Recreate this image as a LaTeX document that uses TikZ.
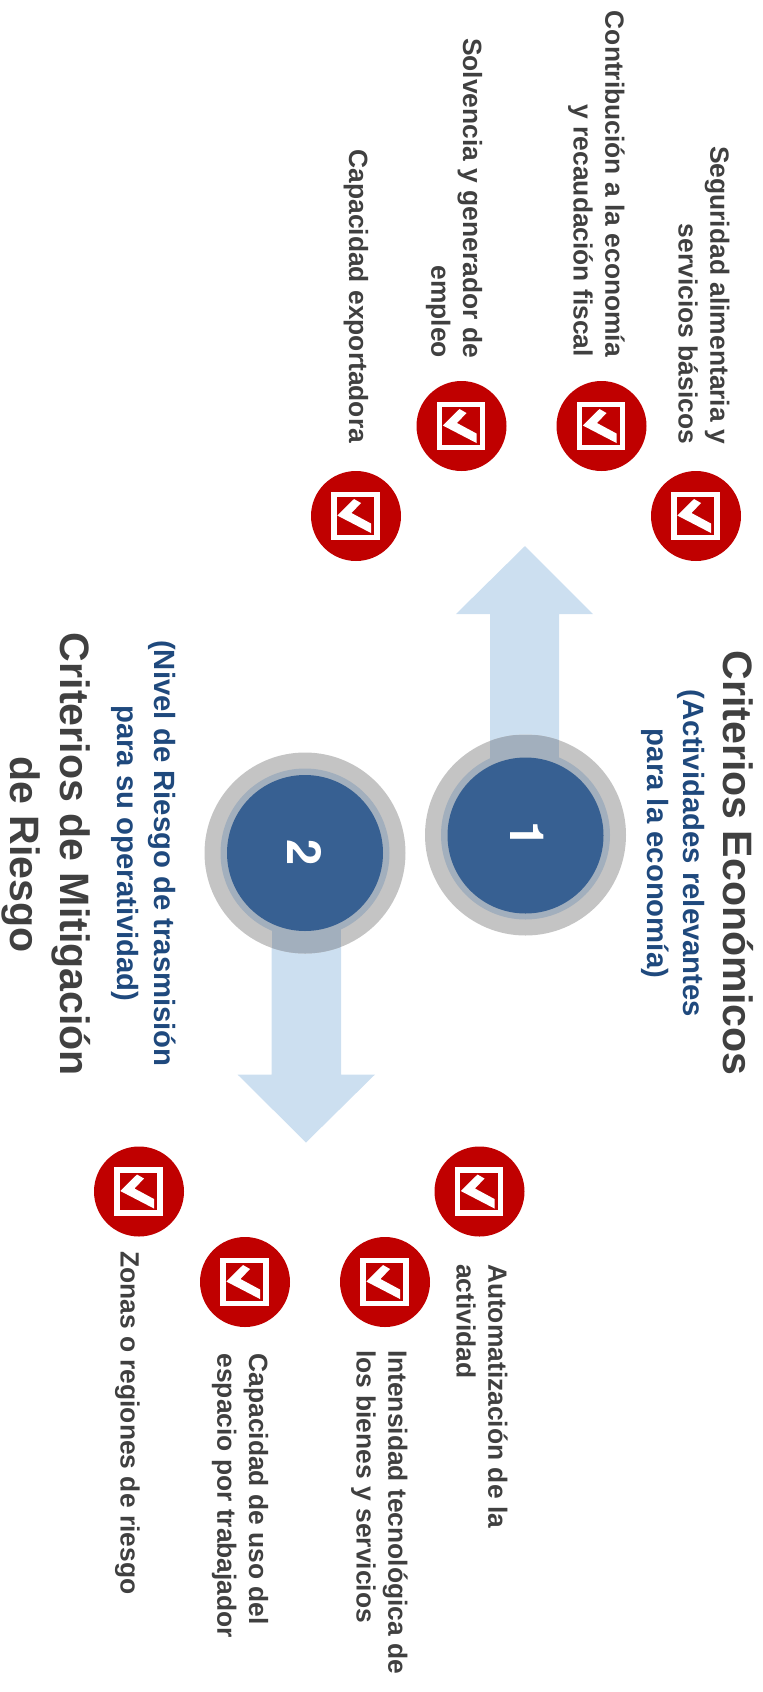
\documentclass[tikz,border=0pt]{standalone}
\usepackage{fontspec}
\setmainfont{Liberation Sans}
\newfontfamily\cifra{TeX Gyre Heros}
\usepackage{xcolor}
\usetikzlibrary{positioning}
\definecolor{texto}{HTML}{404040}
\definecolor{azul}{HTML}{1F497D}
\definecolor{disco}{HTML}{376092}
\definecolor{anillo}{HTML}{C4C4C4}
\definecolor{halo}{HTML}{A2AFBD}
\definecolor{flecha}{HTML}{CCDFF0}
\definecolor{rojo}{HTML}{C00000}
\tikzset{
  icono/.pic={
    \draw [white,line width=5.3pt,fill=rojo] (-22,-21.5) rectangle (21,21.5);
    \fill [white] (-18.7,-0.5) -- (-2,-17) -- (5,-13) -- (-4.5,-3) -- (15,7.5) -- (15,17) -- cycle;
  }
}
\begin{document}
\begin{tikzpicture}[x=1pt,y=-1pt,
    every node/.style={inner sep=0pt,outer sep=0pt,font=\bfseries},
    bola/.style={circle,fill=rojo,minimum size=90pt},
    etiqueta/.style={rotate=-90,text=texto,font=\bfseries\fontsize{26.4}{31.7}\selectfont},
    titulo/.style={rotate=-90,text=texto,align=center,font=\bfseries\fontsize{41.1}{50}\selectfont},
    nota/.style={rotate=-90,text=azul,align=center,font=\bfseries\fontsize{29.3}{36.5}\selectfont},
    numero/.style={rotate=-90,text=white,font=\cifra\bfseries\fontsize{47}{47}\selectfont}]

    \useasboundingbox (0,0) rectangle (763,1692);

    % The arrows
    \fill [flecha] (490,835) -- (490,614) -- (456,614) -- (525,546) -- (593,614) -- (559,614) -- (559,835) -- cycle;
    \fill [flecha] (271.5,853) -- (271.5,1074.5) -- (237.5,1074.5) -- (306,1142.5) -- (375,1074.5) -- (341,1074.5) -- (341,853) -- cycle;

    % The discs
    \fill [anillo] (525.5,835) circle (100.5);
    \fill [anillo] (305,853) circle (100.5);
    \begin{scope}
      \clip (525.5,835) circle (100.5);
      \fill [halo] (490,735) rectangle (559,835);
    \end{scope}
    \begin{scope}
      \clip (305,853) circle (100.5);
      \fill [halo] (271.5,853) rectangle (341,953.5);
    \end{scope}
    \fill [halo] (525.5,835) circle (84.5);
    \fill [halo] (305,853) circle (84.5);
    \node [circle,fill=disco,minimum size=156pt] at (525.5,835.5) (uno) {};
    \node [circle,fill=disco,minimum size=156pt] at (305,853) (dos) {};
    \node [numero] at (527,835) (n1) {1};
    \node [numero] at (305,853) (n2) {2};

    % The red balls
    \node [bola] at (356,516) (a1) {};
    \node [bola] at (461.5,426) (a2) {};
    \node [bola] at (601.5,426) (a3) {};
    \node [bola] at (696,516) (a4) {};
    \node [bola] at (139,1191.5) (b1) {};
    \node [bola] at (245,1282) (b2) {};
    \node [bola] at (385,1282) (b3) {};
    \node [bola] at (479.5,1191.5) (b4) {};

    \pic at (a1) {icono};
    \pic at (a2) {icono};
    \pic at (a3) {icono};
    \pic at (a4) {icono};
    \pic at (b1) {icono};
    \pic at (b2) {icono};
    \pic at (b3) {icono};
    \pic at (b4) {icono};

    % The labels
    \node [etiqueta,anchor=east,align=right] at (704,444) (t1) {Seguridad alimentaria y\\servicios básicos};
    \node [etiqueta,anchor=east,align=right] at (596.5,357) (t2) {Contribución a la economía\\y recaudación fiscal};
    \node [etiqueta,anchor=east,align=right] at (454,358) (t3) {Solvencia y generador de\\empleo};
    \node [etiqueta,anchor=east,align=right] at (356,443) (t4) {Capacidad exportadora};
    \node [etiqueta,anchor=west,align=left] at (482,1264) (t5) {Automatización de la\\actividad};
    \node [etiqueta,anchor=west,align=left] at (379.5,1350) (t6) {Intensidad tecnológica de\\los bienes y servicios};
    \node [etiqueta,anchor=west,align=left] at (240,1353.5) (t7) {Capacidad de uso del\\espacio por trabajador};
    \node [etiqueta,anchor=west,align=left] at (127.5,1251) (t8) {Zonas o regiones de riesgo};

    % The titles
    \node [titulo] at (738,863) (c1) {Criterios Económicos};
    \node [titulo] at (46,854.5) (c2) {Criterios de Mitigación\\de Riesgo};
    \node [nota] at (673,853.5) (s1) {(Actividades relevantes\\para la economía)};
    \node [nota] at (143.5,853.5) (s2) {(Nivel de Riesgo de trasmisión\\para su operatividad)};
\end{tikzpicture}
\end{document}
